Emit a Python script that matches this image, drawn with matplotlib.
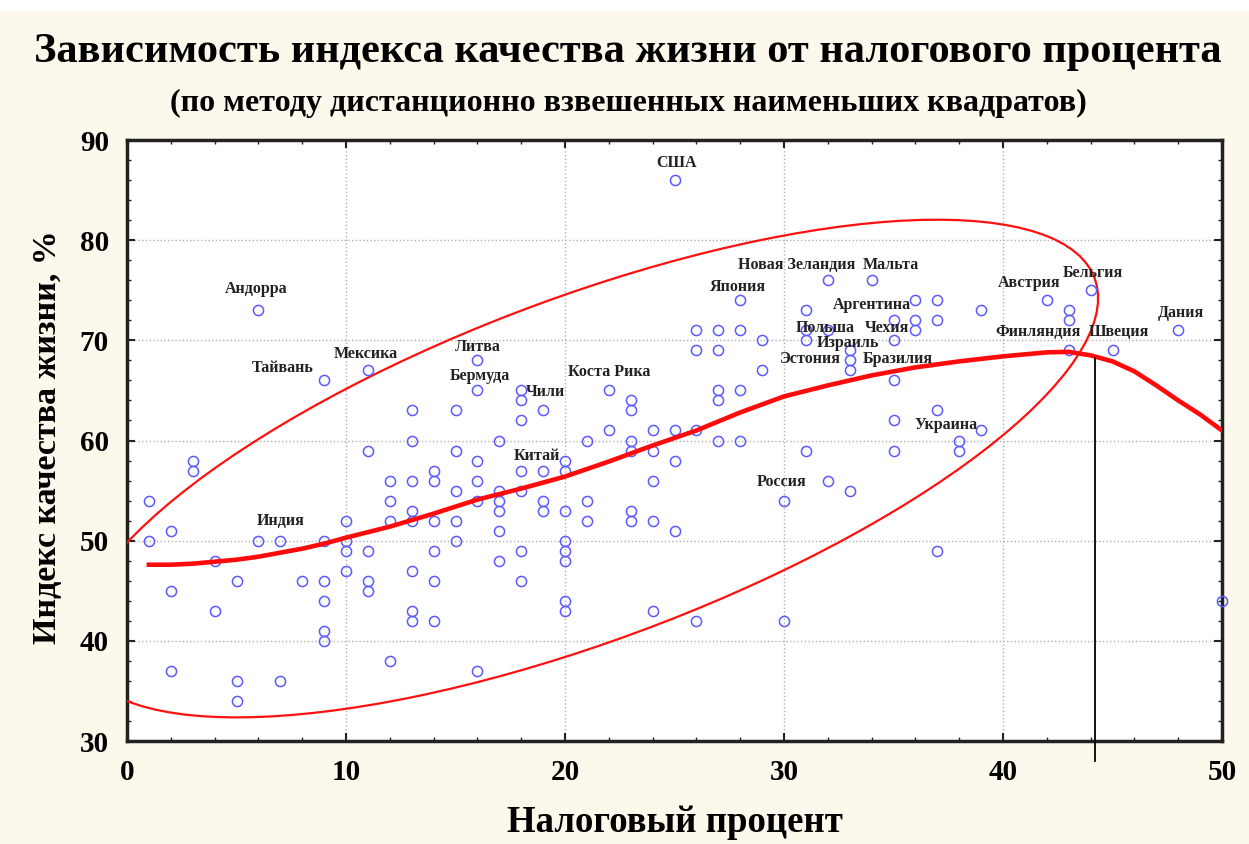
import numpy as np
import matplotlib.pyplot as plt
from matplotlib.patches import Ellipse, Rectangle
from matplotlib.ticker import MultipleLocator

# === Dati ===
tax = [1, 1, 2, 2, 2, 3, 3, 4, 4, 5, 5, 5, 6, 6, 7, 7, 8,
       9, 9, 9, 9, 9, 9, 10, 10, 10, 10, 11, 11, 11, 11, 11,
       12, 12, 12, 12, 13, 13, 13, 13, 13, 13, 13, 13,
       14, 14, 14, 14, 14, 14, 15, 15, 15, 15, 15,
       16, 16, 16, 16, 16, 16, 17, 17, 17, 17, 17, 17,
       18, 18, 18, 18, 18, 18, 18, 19, 19, 19, 19,
       20, 20, 20, 20, 20, 20, 20, 20, 21, 21, 21, 22, 22,
       23, 23, 23, 23, 23, 23, 24, 24, 24, 24, 24,
       25, 25, 25, 25, 26, 26, 26, 26, 27, 27, 27, 27, 27,
       28, 28, 28, 28, 29, 29, 30, 30, 31, 31, 31, 31,
       32, 32, 32, 33, 33, 33, 33, 34, 35, 35, 35, 35, 35,
       36, 36, 36, 37, 37, 37, 37, 38, 38, 39, 39,
       42, 43, 43, 43, 44, 45, 48, 50]
quality = [54, 50, 51, 45, 37, 58, 57, 48, 43, 46, 36, 34, 73, 50, 50, 36, 46,
           66, 50, 46, 44, 41, 40, 52, 50, 49, 47, 67, 59, 49, 46, 45,
           56, 54, 52, 38, 63, 60, 56, 53, 52, 47, 43, 42,
           57, 56, 52, 49, 46, 42, 63, 59, 55, 52, 50,
           68, 65, 58, 56, 54, 37, 60, 55, 54, 53, 51, 48,
           65, 64, 62, 57, 55, 49, 46, 63, 57, 54, 53,
           58, 57, 53, 50, 49, 48, 44, 43, 60, 54, 52, 65, 61,
           64, 63, 60, 59, 53, 52, 61, 59, 56, 52, 43,
           86, 61, 58, 51, 71, 69, 61, 42, 71, 69, 65, 64, 60,
           74, 71, 65, 60, 70, 67, 54, 42, 73, 71, 70, 59,
           76, 71, 56, 69, 68, 67, 55, 76, 72, 70, 66, 62, 59,
           74, 72, 71, 74, 72, 63, 49, 60, 59, 73, 61,
           74, 73, 72, 69, 75, 69, 71, 44]

# curva DWLS
fit_x = [1, 2, 3, 4, 5, 6, 7, 8, 9, 10, 12, 14, 16, 18, 20, 22, 24, 26, 28,
         30, 32, 34, 36, 38, 40, 42, 43, 44, 45, 46, 47, 48, 49, 50]
fit_y = [47.6, 47.6, 47.7, 47.9, 48.1, 48.4, 48.8, 49.2, 49.7, 50.3, 51.4,
         52.7, 54.1, 55.2, 56.4, 57.9, 59.5, 61.0, 62.8, 64.4, 65.5, 66.5,
         67.3, 67.9, 68.4, 68.8, 68.85, 68.5, 67.9, 66.9, 65.5, 64.0, 62.6, 61.0]

# ellisse di confidenza
ell_center = (21.0, 57.2)
ell_axes = (62.6, 27.0)
ell_angle = 47.6

# etichette dei paesi
country_names = ["США", "Андорра", "Тайвань", "Мексика", "Литва", "Бермуда",
                 "Чили", "Коста Рика", "Китай", "Индия", "Россия", "Япония",
                 "Новая Зеландия", "Мальта", "Аргентина", "Польша", "Чехия",
                 "Израиль", "Эстония", "Бразилия", "Украина", "Австрия",
                 "Бельгия", "Финляндия", "Швеция", "Дания"]
label_x = [25.1, 5.9, 7.1, 10.9, 16.0, 16.1, 19.1, 22.0, 18.7, 7.0, 29.9, 27.9,
           30.6, 34.9, 34.0, 31.9, 34.7, 32.9, 31.2, 35.2, 37.4, 41.2,
           44.1, 41.6, 45.3, 48.1]
label_y = [87.7, 75.1, 67.2, 68.6, 69.3, 66.4, 64.8, 66.8, 58.5, 52.0, 55.9, 75.3,
           77.5, 77.5, 73.5, 71.2, 71.2, 69.7, 68.1, 68.1, 61.5, 75.7,
           76.7, 70.8, 70.8, 72.7]

mark_x = 44.2
mark_top = 68.2

serif = "Liberation Serif"
W, H = 1249, 844

fig = plt.figure(figsize=(W / 100, H / 100), dpi=100, facecolor="#fdf8ec")
fig.patches.append(Rectangle((0, 1 - 10 / H), 1, 10 / H,
                             transform=fig.transFigure, color="white", zorder=0))
ax = fig.add_axes([127 / W, 1 - 741 / H, (1222 - 127) / W, (741 - 140) / H])
ax.set_facecolor("white")

# === Ellisse ===
ell = Ellipse(ell_center, ell_axes[0], ell_axes[1], angle=ell_angle,
              fill=False, edgecolor="#ff1010", lw=1.6, zorder=3)
ax.add_patch(ell)

# === Punti e curva ===
ax.plot(tax, quality, "o", ms=7.3, mfc="none", mec="#5a5aff", mew=1.1, zorder=4, clip_on=False)
ax.plot(fit_x, fit_y, color="#ff0a0a", lw=3.3, zorder=5)
ax.plot([mark_x, mark_x], [mark_top, 28.0], color="black", lw=1.3, zorder=5, clip_on=False)

for nome, tx, ty in zip(country_names, label_x, label_y):
    ax.text(tx, ty, nome, ha="center", va="center", fontsize=11.5,
            fontweight="bold", family=serif, color="#222222", zorder=6)

# === Assi ===
ax.set_xlim(0, 50)
ax.set_ylim(30, 90)
ax.xaxis.set_major_locator(MultipleLocator(10))
ax.xaxis.set_minor_locator(MultipleLocator(2))
ax.yaxis.set_major_locator(MultipleLocator(10))
ax.yaxis.set_minor_locator(MultipleLocator(2))
ax.tick_params(which="both", direction="in", top=True, right=True, color="#222222")
ax.tick_params(which="major", length=6, width=1.5, pad=13)
ax.tick_params(which="minor", length=3, width=1)
for lab in ax.get_xticklabels() + ax.get_yticklabels():
    lab.set_fontfamily(serif)
    lab.set_fontweight("bold")
    lab.set_fontsize(21)
ax.grid(True, which="major", ls=":", color="#b0b0b0", lw=1)
for sp in ax.spines.values():
    sp.set_linewidth(2.5)
    sp.set_color("#222222")

fig.text(675 / W, 1 - 822 / H, "Налоговый процент", ha="center", va="center",
         fontsize=26.5, fontweight="bold", family=serif)
fig.text(48 / W, 1 - 437 / H, "Индекс качества жизни, %", ha="center", va="center",
         rotation=90, fontsize=24.5, fontweight="bold", family=serif)

fig.text(628 / W, 1 - 52 / H, "Зависимость индекса качества жизни от налогового процента",
         ha="center", va="center", fontsize=30.5, fontweight="bold", family=serif)
fig.text(628 / W, 1 - 103 / H, "(по методу дистанционно взвешенных наименьших квадратов)",
         ha="center", va="center", fontsize=23, fontweight="bold", family=serif)

plt.savefig("out.png", dpi=100, facecolor=fig.get_facecolor())
plt.close()
